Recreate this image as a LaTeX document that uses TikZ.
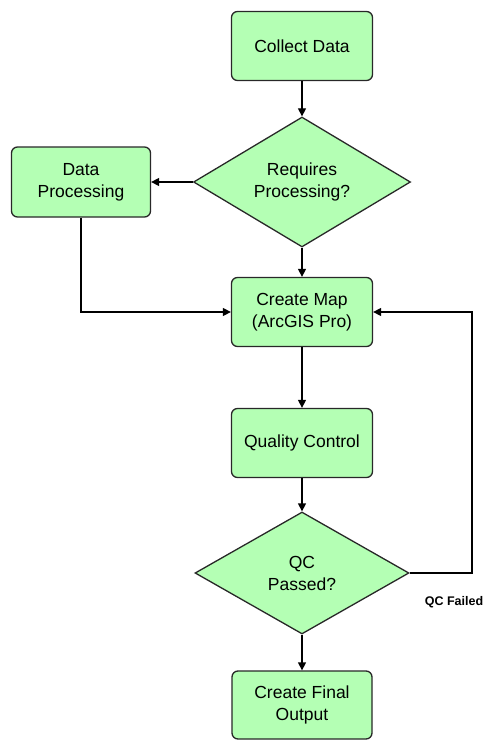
\documentclass[tikz,border=0pt]{standalone}
\usepackage{fontspec}
\setmainfont{Liberation Sans}
\usetikzlibrary{shapes.geometric,arrows.meta}
\definecolor{boxgreen}{RGB}{180,255,180}
\definecolor{edgegray}{RGB}{40,40,40}
\tikzset{
  procbox/.style={draw=edgegray, line width=1.3pt, fill=boxgreen, rounded corners=6pt,
    minimum width=141pt, minimum height=69pt, inner sep=0pt, align=center,
    font=\fontsize{17.5}{22}\selectfont},
  decbox/.style={draw=edgegray, line width=1.3pt, fill=boxgreen, diamond, inner sep=0pt,
    align=center, font=\fontsize{17.5}{22}\selectfont},
  flow/.style={draw=black, line width=1.3pt, -{Triangle[length=8pt,width=8pt]}},
  lbl/.style={font=\fontsize{12.5}{15}\selectfont\bfseries, inner sep=0pt}
}
\begin{document}
\begin{tikzpicture}[x=1pt,y=-1pt]
\useasboundingbox (0,0) rectangle (494,749);
\node[procbox] (collect) at (302,46) {Collect Data};
\node[decbox, minimum width=217pt, minimum height=130pt, aspect=1.67] (req) at (302,182) {Requires\\Processing?};
\node[procbox, minimum width=139pt, minimum height=70pt] (dp) at (81,182) {Data\\Processing};
\node[procbox] (map) at (302,312) {Create Map\\(ArcGIS Pro)};
\node[procbox] (qc) at (302,443) {Quality Control};
\node[decbox, minimum width=214pt, minimum height=122pt, aspect=1.75] (pass) at (302,573) {QC\\Passed?};
\node[procbox, minimum width=140pt, minimum height=68pt] (final) at (302,705) {Create Final\\Output};
\coordinate (loop) at (472,573);
\node[lbl] (fail) at (454,602) {QC Failed};

\draw[flow] (collect.south) -- (req.north);
\draw[flow] (req.west) -- (dp.east);
\draw[flow] (req.south) -- (map.north);
\draw[flow] (dp.south) |- (map.west);
\draw[flow] (map.south) -- (qc.north);
\draw[flow] (qc.south) -- (pass.north);
\draw[flow] (pass.south) -- (final.north);
\draw[flow] (pass.east) -- (loop) |- (map.east);
\end{tikzpicture}
\end{document}
